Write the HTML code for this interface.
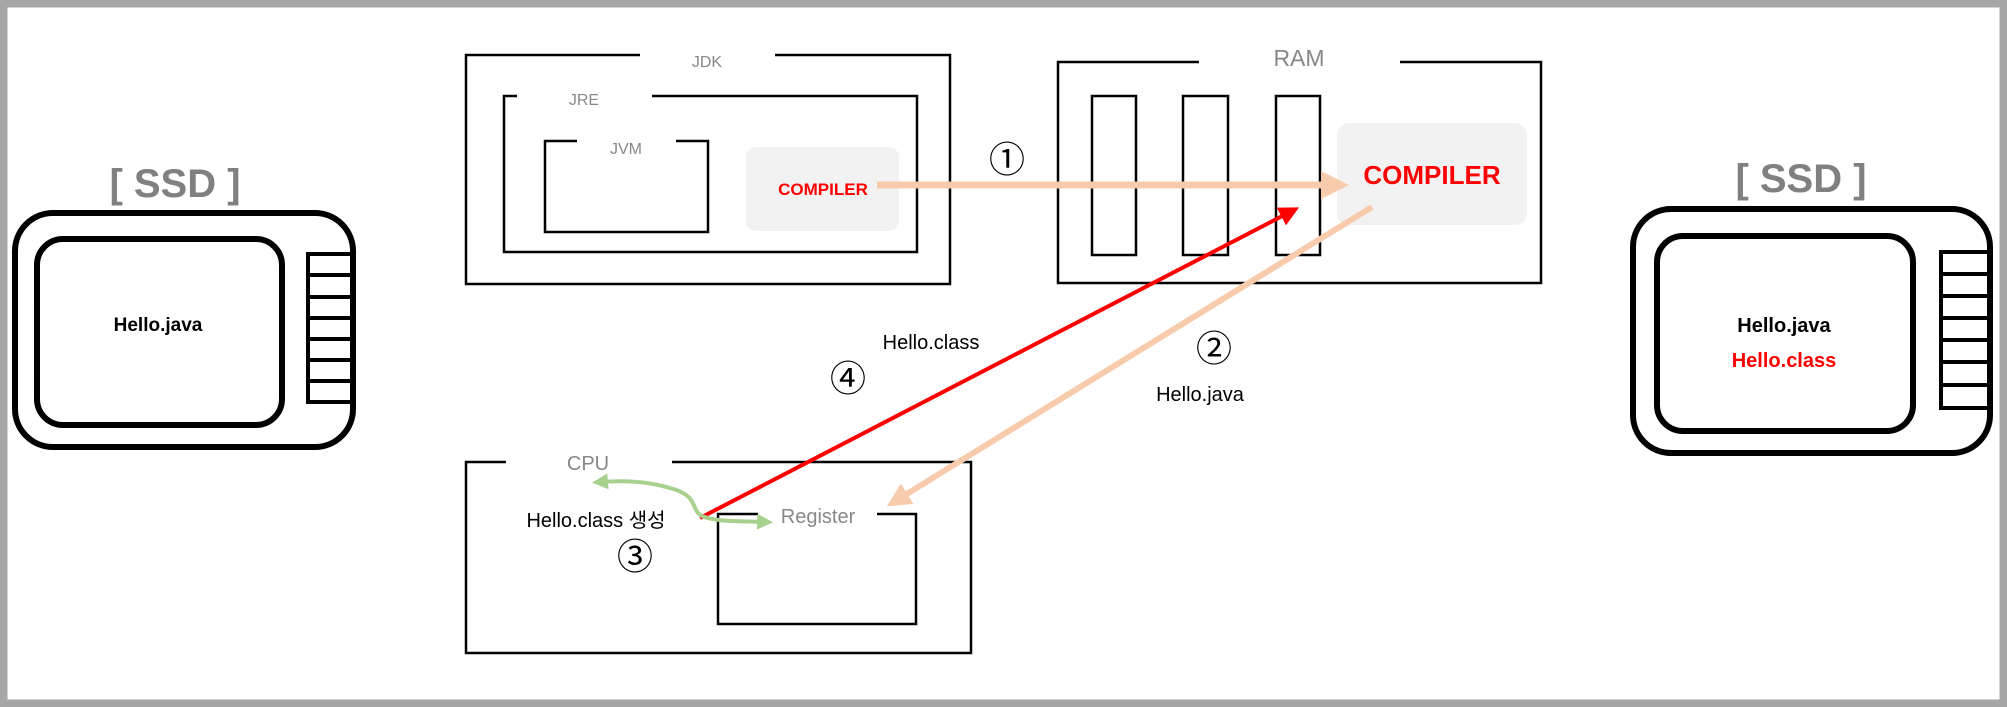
<!DOCTYPE html>
<html><head><meta charset="utf-8"><style>
html,body{margin:0;padding:0;background:#fff}
svg{display:block}
text{font-family:"Liberation Sans","Noto Sans CJK KR",sans-serif}
</style></head><body>
<svg width="2007" height="707" viewBox="0 0 2007 707" xmlns="http://www.w3.org/2000/svg">
<rect x="3.5" y="3.5" width="2000" height="700" fill="#fff" stroke="#a6a6a6" stroke-width="8"/>
<defs>
<marker id="ap" markerWidth="4" markerHeight="4" refX="2" refY="2" orient="auto" markerUnits="strokeWidth"><path d="M0,0 L4,2 L0,4 z" fill="#f8cbad"/></marker>
<marker id="ar" markerWidth="5" markerHeight="5" refX="3" refY="2.5" orient="auto" markerUnits="strokeWidth"><path d="M0,0 L5,2.5 L0,5 z" fill="#ff0000"/></marker>
<marker id="ag" markerWidth="4" markerHeight="4" refX="2" refY="2" orient="auto" markerUnits="strokeWidth"><path d="M0,0 L4,2 L0,4 z" fill="#a9d18e"/></marker>
</defs>
<g fill="none" stroke="#000" stroke-width="2.5">
<path d="M640,55 H466 V284 H950 V55 H775"/>
<path d="M517,96 H504 V252 H917 V96 H652"/>
<path d="M577,141 H545 V232 H708 V141 H676"/>
<path d="M1199,62 H1058 V283 H1541 V62 H1400"/>
<rect x="1092" y="96" width="44" height="159"/>
<rect x="1183" y="96" width="45" height="159"/>
<rect x="1276" y="96" width="44" height="159"/>
<path d="M506,462 H466 V653 H971 V462 H672"/>
<path d="M758,514 H718 V624 H916 V514 H877"/>
</g>
<text x="707" y="67" font-size="16" fill="#888" text-anchor="middle">JDK</text>
<text x="584" y="105" font-size="16" fill="#888" text-anchor="middle">JRE</text>
<text x="626" y="154" font-size="16" fill="#888" text-anchor="middle">JVM</text>
<rect x="746" y="147" width="153" height="84" rx="10" fill="#f2f2f2"/>
<text x="823" y="195" font-size="17" font-weight="bold" fill="#ff0000" text-anchor="middle">COMPILER</text>
<text x="1299" y="66" font-size="23" fill="#888" text-anchor="middle">RAM</text>
<rect x="1337" y="123" width="190" height="102" rx="12" fill="#f2f2f2"/>
<line x1="877" y1="185" x2="1335" y2="185" stroke="#f8cbad" stroke-width="7" marker-end="url(#ap)"/>
<text x="1432" y="184" font-size="26" font-weight="bold" fill="#ff0000" text-anchor="middle">COMPILER</text>
<text x="1007" y="172" font-size="36" fill="#000" text-anchor="middle">①</text>
<line x1="1372" y1="207" x2="897" y2="500" stroke="#f8cbad" stroke-width="6" marker-end="url(#ap)"/>
<text x="1214" y="361" font-size="36" fill="#000" text-anchor="middle">②</text>
<text x="1200" y="401" font-size="20" fill="#000" text-anchor="middle">Hello.java</text>
<line x1="700" y1="518" x2="1292" y2="211" stroke="#ff0000" stroke-width="4" marker-end="url(#ar)"/>
<text x="931" y="349" font-size="20" fill="#000" text-anchor="middle">Hello.class</text>
<text x="848" y="391" font-size="36" fill="#000" text-anchor="middle">④</text>
<text x="588" y="470" font-size="20" fill="#888" text-anchor="middle">CPU</text>
<text x="818" y="523" font-size="20" fill="#888" text-anchor="middle">Register</text>
<text x="596" y="527" font-size="20" fill="#000" text-anchor="middle">Hello.class 생성</text>
<text x="635" y="569" font-size="36" fill="#000" text-anchor="middle">③</text>
<path d="M702,516 C690,510 700,496 670,488 C650,482 625,480 600,482" fill="none" stroke="#a9d18e" stroke-width="4" marker-end="url(#ag)"/>
<path d="M702,516 C715,522 740,521 765,522" fill="none" stroke="#a9d18e" stroke-width="4" marker-end="url(#ag)"/>
<g fill="none" stroke="#000" stroke-width="6">
<rect x="15" y="213" width="338" height="234" rx="38"/>
<rect x="37" y="239" width="245" height="186" rx="26"/>
<rect x="1633" y="209" width="357" height="244" rx="38"/>
<rect x="1657" y="236" width="256" height="195" rx="26"/>
</g>
<g fill="none" stroke="#000" stroke-width="4">
<path d="M352,254 H308 V402 H352 M308,275 H352 M308,297 H352 M308,318 H352 M308,339 H352 M308,360 H352 M308,381 H352"/>
<path d="M1988,252 H1941 V408 H1988 M1941,274 H1988 M1941,296 H1988 M1941,318 H1988 M1941,340 H1988 M1941,362 H1988 M1941,385 H1988"/>
</g>
<text x="175" y="197" font-size="40" font-weight="bold" fill="#808080" text-anchor="middle">[ SSD ]</text>
<text x="158" y="331" font-size="19" font-weight="bold" fill="#000" text-anchor="middle">Hello.java</text>
<text x="1801" y="192" font-size="40" font-weight="bold" fill="#808080" text-anchor="middle">[ SSD ]</text>
<text x="1784" y="332" font-size="20" font-weight="bold" fill="#000" text-anchor="middle">Hello.java</text>
<text x="1784" y="367" font-size="20" font-weight="bold" fill="#ff0000" text-anchor="middle">Hello.class</text>
</svg>
</body></html>
